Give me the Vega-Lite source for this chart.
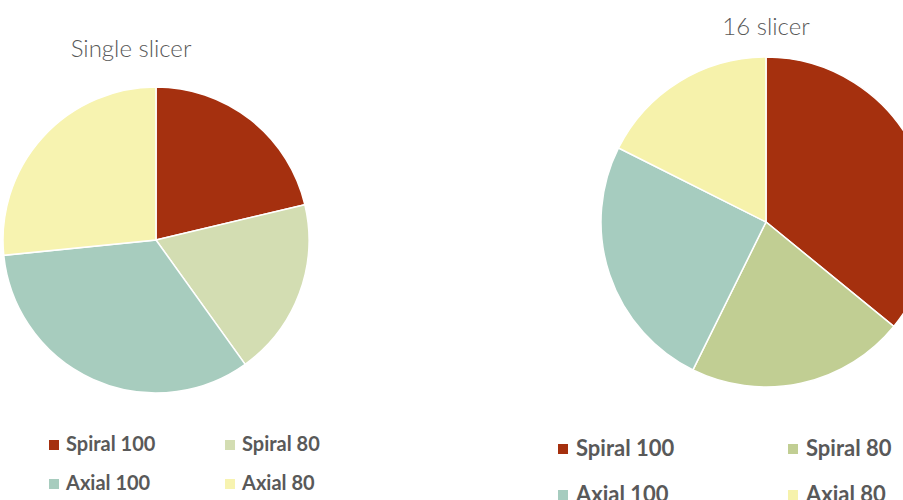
{
  "$schema": "https://vega.github.io/schema/vega-lite/v6.json",
  "padding": 0,
  "background": "white",
  "bounds": "flush",
  "spacing": 294,
  "config": {
    "view": {"stroke": null},
    "title": {"font": "Lato", "fontWeight": 300, "fontSize": 24, "color": "#595959", "anchor": "middle"},
    "legend": {
      "orient": "none",
      "direction": "horizontal",
      "columns": 2,
      "symbolType": "square",
      "symbolSize": 100,
      "symbolStrokeWidth": 0,
      "labelFont": "Lato",
      "labelFontWeight": "bold",
      "labelColor": "#595959",
      "labelOffset": 2,
      "padding": 0,
      "title": null
    }
  },
  "datasets": {
    "single": [
      {"series": "Spiral 100", "share": 21.3, "order": 1},
      {"series": "Spiral 80", "share": 18.8, "order": 2},
      {"series": "Axial 100", "share": 33.3, "order": 3},
      {"series": "Axial 80", "share": 26.6, "order": 4}
    ],
    "sixteen": [
      {"series": "Spiral 100", "share": 35.9, "order": 1},
      {"series": "Spiral 80", "share": 21.4, "order": 2},
      {"series": "Axial 100", "share": 25.1, "order": 3},
      {"series": "Axial 80", "share": 17.6, "order": 4}
    ]
  },
  "hconcat": [
    {
      "width": 306,
      "height": 480,
      "data": {"name": "single"},
      "title": {"text": "Single slicer", "offset": -62, "dx": -25},
      "mark": {"type": "arc", "outerRadius": 153, "stroke": "white", "strokeWidth": 1.5},
      "encoding": {
        "theta": {"field": "share", "type": "quantitative", "stack": true},
        "order": {"field": "order", "type": "quantitative"},
        "color": {
          "field": "series",
          "type": "nominal",
          "scale": {
            "domain": ["Spiral 100", "Spiral 80", "Axial 100", "Axial 80"],
            "range": ["#A5300F", "#D3DDB2", "#A7CCBE", "#F7F3B0"]
          },
          "legend": {"legendX": 41, "legendY": 435, "labelFontSize": 20, "rowPadding": 19, "columnPadding": 64}
        }
      }
    },
    {
      "width": 326,
      "height": 444,
      "data": {"name": "sixteen"},
      "title": {"text": "16 slicer", "offset": -40},
      "mark": {"type": "arc", "outerRadius": 165, "stroke": "white", "strokeWidth": 1.5},
      "encoding": {
        "theta": {"field": "share", "type": "quantitative", "stack": true},
        "order": {"field": "order", "type": "quantitative"},
        "color": {
          "field": "series",
          "type": "nominal",
          "scale": {
            "domain": ["Spiral 100", "Spiral 80", "Axial 100", "Axial 80"],
            "range": ["#A5300E", "#C1CE93", "#A6CCBF", "#F6F2AB"]
          },
          "legend": {"legendX": -51, "legendY": 438, "labelFontSize": 22, "rowPadding": 24, "columnPadding": 107}
        }
      }
    }
  ],
  "resolve": {"scale": {"color": "independent", "theta": "independent"}}
}
